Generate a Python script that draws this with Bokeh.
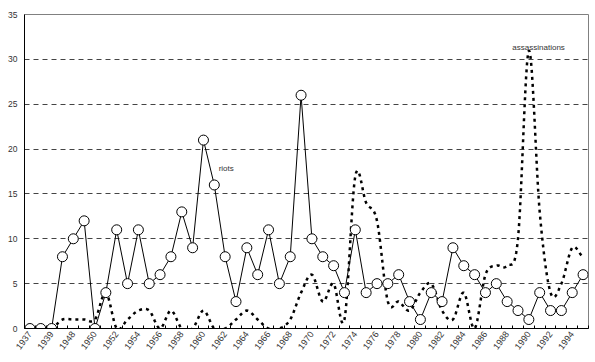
import math
import numpy as np
from bokeh.plotting import figure
from bokeh.models import Range1d, FixedTicker, Label
from bokeh.embed import file_html
from bokeh.resources import INLINE

years = [1937, 1938, 1939, 1947] + list(range(1948, 1996))
riots = [0, 0, 0, 8, 10, 12, 0, 4, 11, 5, 11, 5, 6, 8, 13, 9, 21, 16, 8, 3,
         9, 6, 11, 5, 8, 26, 10, 8, 7, 4, 11, 4, 5, 5, 6, 3, 1, 4, 3, 9,
         7, 6, 4, 5, 3, 2, 1, 4, 2, 2, 4, 6]
assassinations = [0, 0, 0, 1, 1, 1, 1, 4, 0, 1, 2, 2, 0, 2, 0, 0, 2, 0, 0, 1,
                  2, 1, 0, 0, 1, 4, 6, 3, 5, 1, 17, 14, 12, 3, 3, 2, 4, 5, 2, 1,
                  4, 0, 6, 7, 7, 10, 31, 13, 4, 5, 9, 8]
y_ticks = [0, 5, 10, 15, 20, 25, 30, 35]

idx = np.arange(len(years))


def smooth(xs, ys, n=12):
    """Uniform Catmull-Rom rendering of a series (drawing style only)."""
    xs = np.asarray(xs, float)
    ys = np.asarray(ys, float)
    px = np.concatenate([[2 * xs[0] - xs[1]], xs, [2 * xs[-1] - xs[-2]]])
    py = np.concatenate([[ys[0]], ys, [ys[-1]]])
    out_x, out_y = [], []
    t = np.linspace(0, 1, n, endpoint=False)
    for i in range(1, len(px) - 2):
        for arr, out in ((px, out_x), (py, out_y)):
            p0, p1, p2, p3 = arr[i - 1], arr[i], arr[i + 1], arr[i + 2]
            out.extend(0.5 * ((2 * p1) + (-p0 + p2) * t +
                              (2 * p0 - 5 * p1 + 4 * p2 - p3) * t ** 2 +
                              (-p0 + 3 * p1 - 3 * p2 + p3) * t ** 3))
    out_x.append(xs[-1])
    out_y.append(ys[-1])
    return out_x, out_y


p = figure(width=592, height=360, output_backend="svg", toolbar_location=None,
           x_range=Range1d(-0.5, len(years) - 0.5), y_range=Range1d(0, 35),
           min_border_left=24, min_border_right=4, min_border_top=14,
           min_border_bottom=32)
p.background_fill_color = "white"
p.border_fill_color = "white"
p.outline_line_color = "#808080"
p.outline_line_width = 1

# grid
p.xgrid.visible = False
p.ygrid.ticker = FixedTicker(ticks=y_ticks[1:-1])
p.ygrid.grid_line_color = "#444444"
p.ygrid.grid_line_dash = "5 4"
p.ygrid.grid_line_width = 1

# axes
p.yaxis.ticker = FixedTicker(ticks=y_ticks)
p.yaxis.major_tick_in = 0
p.yaxis.major_tick_out = 0
p.yaxis.minor_tick_in = 0
p.yaxis.minor_tick_out = 0
p.yaxis.axis_line_color = "black"
p.yaxis.major_label_standoff = 7
p.yaxis.major_label_text_font = "Liberation Sans"
p.yaxis.major_label_text_font_size = "8.5px"
p.yaxis.major_label_text_color = "#333333"

# x axis: year labels every other category, tick marks between categories
major = [int(i) for i in idx[::2]]
p.xaxis.ticker = FixedTicker(ticks=major,
                             minor_ticks=[i + 0.5 for i in range(-1, len(years))])
p.xaxis.major_label_overrides = {i: str(years[i]) for i in major}
p.xaxis.major_label_orientation = 0.92
p.xaxis.major_tick_in = 0
p.xaxis.major_tick_out = 0
p.xaxis.minor_tick_in = 3
p.xaxis.minor_tick_out = 0
p.xaxis.axis_line_color = "black"
p.xaxis.major_label_standoff = 4
p.xaxis.major_label_text_font = "Liberation Sans"
p.xaxis.major_label_text_font_size = "9px"
p.xaxis.major_label_text_color = "#333333"

# assassinations: smoothed dotted line
sx, sy = smooth(idx, assassinations)
p.line(sx, sy, line_color="black", line_width=2.5, line_dash="3 4")

# riots: solid line with open circles
p.line(idx, riots, line_color="black", line_width=1)
p.scatter(idx, riots, size=10, fill_color="white", line_color="black",
          line_width=1)

# series labels
imax_r = int(np.argmax(riots[:20]))
p.add_layout(Label(x=imax_r + 1.4, y=riots[imax_r + 1] + 1.8, text="riots",
                   text_font="Liberation Sans", text_font_size="8px",
                   text_color="#333333", text_baseline="middle"))
imax_a = int(np.argmax(assassinations))
p.add_layout(Label(x=imax_a + 0.9, y=assassinations[imax_a] + 0.3,
                   text="assassinations", text_font="Liberation Sans",
                   text_font_size="8px", text_color="#333333",
                   text_align="center", text_baseline="middle"))

open("out.html", "w").write(file_html(p, INLINE))
